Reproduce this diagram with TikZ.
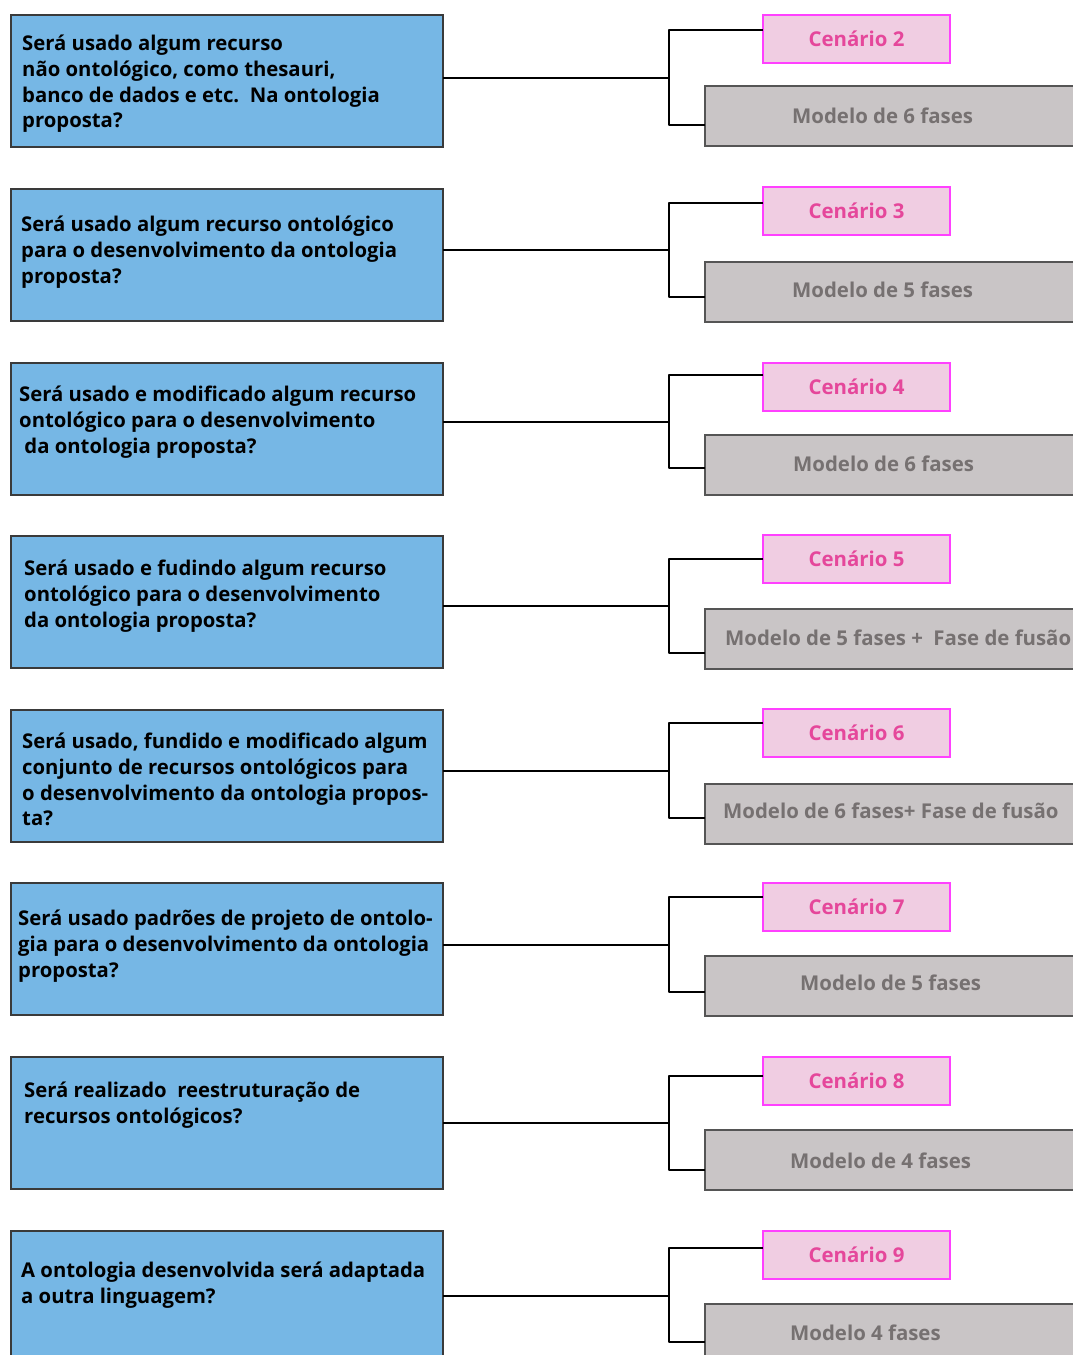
\documentclass[tikz,border=0pt]{standalone}
\usepackage{fontspec}
\setmainfont{Open Sans}
\definecolor{qfill}{HTML}{76B7E5}
\definecolor{qborder}{HTML}{3A3A3A}
\definecolor{sfill}{HTML}{F0CDE2}
\definecolor{sborder}{HTML}{FF40FF}
\definecolor{stext}{HTML}{E5479B}
\definecolor{mfill}{HTML}{C9C5C6}
\definecolor{mborder}{HTML}{555555}
\definecolor{mtext}{HTML}{767171}
\newcommand\qfont{\fontsize{20.3}{25.9}\selectfont\bfseries}
\newcommand\lfont{\fontsize{20.4}{22}\selectfont\bfseries}
\begin{document}
\begin{tikzpicture}[x=1pt,y=-1pt,
  question/.style={draw=qborder, line width=1.4pt, fill=qfill, minimum width=432pt,
    minimum height=132pt, anchor=north west, inner sep=0pt, outer sep=0pt},
  qtext/.style={anchor=north west, inner sep=0pt, align=left, font=\qfont, text=black},
  scen/.style={draw=sborder, line width=1.4pt, fill=sfill, minimum width=187pt,
    minimum height=48pt, anchor=north west, inner sep=0pt, outer sep=0pt,
    text=stext, font=\lfont},
  model/.style={draw=mborder, line width=1.4pt, fill=mfill, minimum width=380pt,
    minimum height=60pt, anchor=north west, inner sep=0pt, outer sep=0pt},
  mlabel/.style={anchor=base west, inner sep=0pt, text=mtext, font=\lfont},
  link/.style={line width=2.9pt, black, line join=round}]
\useasboundingbox (0,0) rectangle (1073,1355);
\clip (0,0) rectangle (1073,1355);

% one question with its two outcomes per row
% row 1
\node[question] (q1) at (11,15) {};
\node[qtext] (t1) at (22,31.9) {\strut Será usado algum recurso\\ não ontológico, como thesauri,\\ banco de dados e etc.\ \ Na ontologia\\ proposta?};
\node[scen] (c1) at (763,15) {Cenário 2};
\node[model] (m1) at (705,86) {};
\node[mlabel] (l1) at (792,123.5) {Modelo de 6 fases};
\coordinate (j1) at (669,78);
\coordinate (tb1) at (669,30);
\coordinate (bb1) at (669,125);
\draw[link] (q1.east |- j1) -- (j1);
\draw[link] (c1.west |- tb1) -- (tb1) -- (bb1) -- (m1.west |- bb1);

% row 2
\node[question] (q2) at (11,189) {};
\node[qtext] (t2) at (21,212.9) {\strut Será usado algum recurso ontológico\\ para o desenvolvimento da ontologia\\ proposta?};
\node[scen] (c2) at (763,187) {Cenário 3};
\node[model] (m2) at (705,262) {};
\node[mlabel] (l2) at (792,297.5) {Modelo de 5 fases};
\coordinate (j2) at (669,250);
\coordinate (tb2) at (669,203);
\coordinate (bb2) at (669,297);
\draw[link] (q2.east |- j2) -- (j2);
\draw[link] (c2.west |- tb2) -- (tb2) -- (bb2) -- (m2.west |- bb2);

% row 3
\node[question] (q3) at (11,363) {};
\node[qtext] (t3) at (19,382.9) {\strut Será usado e modificado algum recurso\\ ontológico para o desenvolvimento\\ \ da ontologia proposta?};
\node[scen] (c3) at (763,363) {Cenário 4};
\node[model] (m3) at (705,435) {};
\node[mlabel] (l3) at (793,471.5) {Modelo de 6 fases};
\coordinate (j3) at (669,422);
\coordinate (tb3) at (669,375);
\coordinate (bb3) at (669,468);
\draw[link] (q3.east |- j3) -- (j3);
\draw[link] (c3.west |- tb3) -- (tb3) -- (bb3) -- (m3.west |- bb3);

% row 4
\node[question] (q4) at (11,536) {};
\node[qtext] (t4) at (24,556.9) {\strut Será usado e fudindo algum recurso\\ ontológico para o desenvolvimento\\ da ontologia proposta?};
\node[scen] (c4) at (763,535) {Cenário 5};
\node[model] (m4) at (705,609) {};
\node[mlabel] (l4) at (725,645.5) {Modelo de 5 fases +\ \ Fase de fusão};
\coordinate (j4) at (669,606);
\coordinate (tb4) at (669,559);
\coordinate (bb4) at (669,653);
\draw[link] (q4.east |- j4) -- (j4);
\draw[link] (c4.west |- tb4) -- (tb4) -- (bb4) -- (m4.west |- bb4);

% row 5
\node[question] (q5) at (11,710) {};
\node[qtext] (t5) at (22,729.9) {\strut Será usado, fundido e modificado algum\\ conjunto de recursos ontológicos para\\ o desenvolvimento da ontologia propos-\\ ta?};
\node[scen] (c5) at (763,709) {Cenário 6};
\node[model] (m5) at (705,784) {};
\node[mlabel] (l5) at (723,818.5) {Modelo de 6 fases+ Fase de fusão};
\coordinate (j5) at (669,771);
\coordinate (tb5) at (669,723);
\coordinate (bb5) at (669,818);
\draw[link] (q5.east |- j5) -- (j5);
\draw[link] (c5.west |- tb5) -- (tb5) -- (bb5) -- (m5.west |- bb5);

% row 6
\node[question] (q6) at (11,883) {};
\node[qtext] (t6) at (18,906.9) {\strut Será usado padrões de projeto de ontolo-\\ gia para o desenvolvimento da ontologia\\ proposta?};
\node[scen] (c6) at (763,883) {Cenário 7};
\node[model] (m6) at (705,956) {};
\node[mlabel] (l6) at (800,990.5) {Modelo de 5 fases};
\coordinate (j6) at (669,945);
\coordinate (tb6) at (669,897);
\coordinate (bb6) at (669,992);
\draw[link] (q6.east |- j6) -- (j6);
\draw[link] (c6.west |- tb6) -- (tb6) -- (bb6) -- (m6.west |- bb6);

% row 7
\node[question] (q7) at (11,1057) {};
\node[qtext] (t7) at (24,1078.9) {\strut Será realizado\ \ reestruturação de\\ recursos ontológicos?};
\node[scen] (c7) at (763,1057) {Cenário 8};
\node[model] (m7) at (705,1130) {};
\node[mlabel] (l7) at (790,1168.5) {Modelo de 4 fases};
\coordinate (j7) at (669,1123);
\coordinate (tb7) at (669,1076);
\coordinate (bb7) at (669,1170);
\draw[link] (q7.east |- j7) -- (j7);
\draw[link] (c7.west |- tb7) -- (tb7) -- (bb7) -- (m7.west |- bb7);

% row 8
\node[question] (q8) at (11,1231) {};
\node[qtext] (t8) at (21,1258.9) {\strut A ontologia desenvolvida será adaptada\\ a outra linguagem?};
\node[scen] (c8) at (763,1231) {Cenário 9};
\node[model] (m8) at (705,1304) {};
\node[mlabel] (l8) at (790,1340.5) {Modelo 4 fases};
\coordinate (j8) at (669,1296);
\coordinate (tb8) at (669,1248);
\coordinate (bb8) at (669,1342);
\draw[link] (q8.east |- j8) -- (j8);
\draw[link] (c8.west |- tb8) -- (tb8) -- (bb8) -- (m8.west |- bb8);
\end{tikzpicture}
\end{document}
